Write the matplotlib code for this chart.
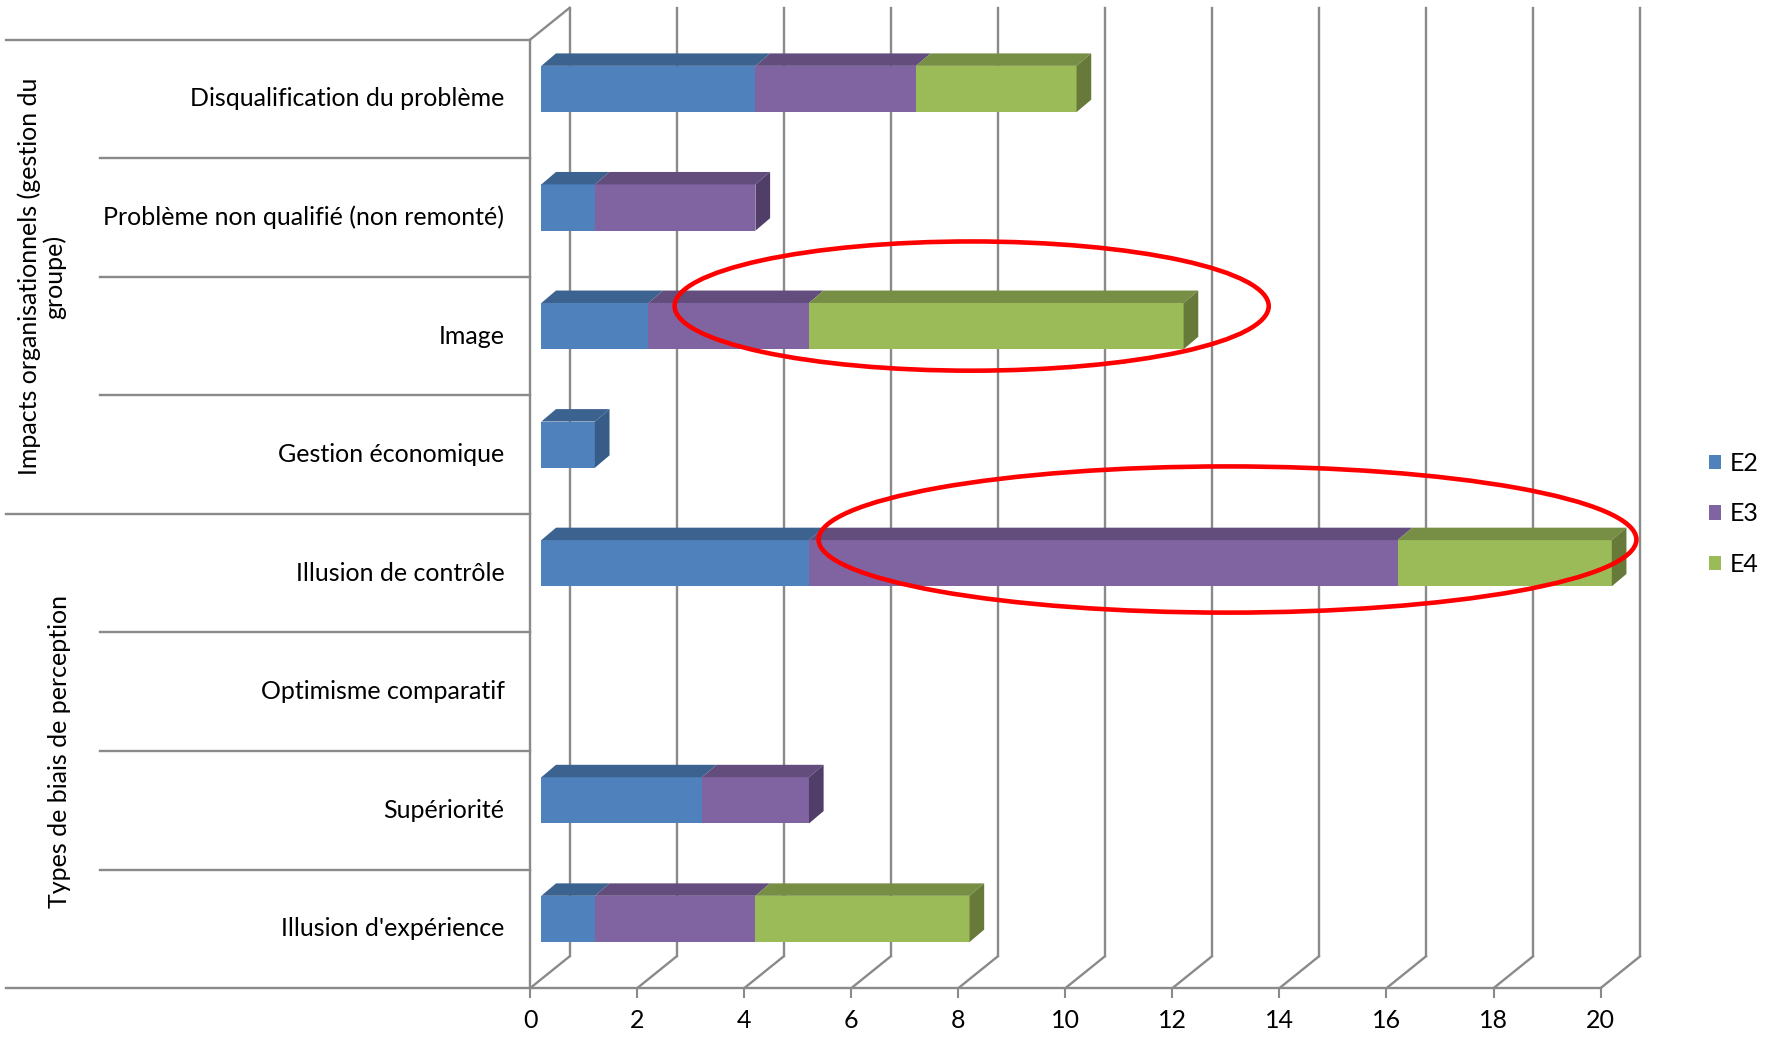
import matplotlib
matplotlib.use('Agg')
import matplotlib.pyplot as plt
from matplotlib.patches import Polygon, Ellipse, Patch
import matplotlib.transforms as mtrans

plt.rcParams['font.family'] = ['Lato', 'DejaVu Sans']

# ---------------- data ----------------
categories = ["Disqualification du problème",
              "Problème non qualifié (non remonté)",
              "Image",
              "Gestion économique",
              "Illusion de contrôle",
              "Optimisme comparatif",
              "Supériorité",
              "Illusion d'expérience"]
groups = ["Impacts organisationnels (gestion du\ngroupe)",
          "Types de biais de perception"]
group_sizes = [4, 4]
series_names = ["E2", "E3", "E4"]
e2 = [4, 1, 2, 1, 5, 0, 3, 1]
e3 = [3, 3, 3, 0, 11, 0, 2, 3]
e4 = [3, 0, 7, 0, 4, 0, 0, 4]
xticks = [0, 2, 4, 6, 8, 10, 12, 14, 16, 18, 20]

# ---------------- style ----------------
front_cols = ["#4F81BD", "#8064A2", "#9BBB59"]
top_cols = ["#3C6290", "#634D7C", "#778E45"]
side_cols = ["#385C88", "#503E68", "#677A39"]
grid_col = "#8A8A8A"
FS = 18.0

WX, WY = 0.737, -0.268     # wall depth offset (data units)
BX, BY = 0.274, -0.105     # bar depth offset
BAR_SHIFT = 0.21           # bar front face shift
BAR_H = 0.39
BAR_C = 0.416

AX_LEFT = 0.3000
AX_W = 0.6058

fig = plt.figure(figsize=(17.67, 10.38), dpi=100)
ax = fig.add_axes([AX_LEFT, 0.048, AX_W, 0.9138])
ax.set_xlim(0, 20)
ax.set_ylim(8, 0)
for s in ax.spines.values():
    s.set_visible(False)
ax.set_xticks(xticks)
ax.set_xticklabels([str(t) for t in xticks], fontsize=FS)
ax.tick_params(axis='x', length=7, width=1.5, color=grid_col, pad=8)
ax.set_yticks([])

glw = 1.7
# back-wall gridlines and floor diagonals
for k in xticks:
    ax.plot([k + WX, k + WX], [WY, 8 + WY], color=grid_col, lw=glw, clip_on=False, zorder=1)
    ax.plot([k, k + WX], [8, 8 + WY], color=grid_col, lw=glw, clip_on=False, zorder=1)
# left wall
ax.plot([0, 0], [0, 8], color=grid_col, lw=glw, clip_on=False, zorder=1)
ax.plot([0, WX], [0, WY], color=grid_col, lw=glw, clip_on=False, zorder=1)
# floor front line
ax.plot([0, 20], [8, 8], color=grid_col, lw=glw, clip_on=False, zorder=1)

# category separators (figure-x / data-y)
btr = mtrans.blended_transform_factory(fig.transFigure, ax.transData)
bounds = [0]
for g in group_sizes:
    bounds.append(bounds[-1] + g)
for yb in range(len(categories) + 1):
    x0 = 0.0032 if yb in bounds else 0.0564
    ax.plot([x0, AX_LEFT], [yb, yb], color=grid_col, lw=glw, transform=btr, clip_on=False, zorder=1)

# category labels
lab_tr = mtrans.offset_copy(ax.transData, fig=fig, x=-18.5, y=0, units='points')
for i, c in enumerate(categories):
    ax.text(0, i + 0.5, c, ha='right', va='center', fontsize=FS, transform=lab_tr)

# group labels
gx = [0.0237, 0.0335]
start = 0
for g, n, x in zip(groups, group_sizes, gx):
    ax.text(x, start + n / 2, g, rotation=90, ha='center', va='center',
            fontsize=FS, transform=btr, multialignment='center', linespacing=1.05)
    start += n

# ---------------- bars ----------------
series = [e2, e3, e4]
for i in range(len(categories)):
    left = BAR_SHIFT
    yc = i + BAR_C
    ytop = yc - BAR_H / 2
    ybot = yc + BAR_H / 2
    last = None
    for si, vals in enumerate(series):
        v = vals[i]
        if v == 0:
            continue
        ax.barh(yc, v, left=left, height=BAR_H, color=front_cols[si], edgecolor='none',
                zorder=3, clip_on=False)
        top = Polygon([(left, ytop), (left + v, ytop), (left + v + BX, ytop + BY), (left + BX, ytop + BY)],
                      closed=True, facecolor=top_cols[si], edgecolor='none', zorder=3, clip_on=False)
        ax.add_patch(top)
        left += v
        last = si
    if last is not None:
        side = Polygon([(left, ytop), (left + BX, ytop + BY), (left + BX, ybot + BY), (left, ybot)],
                       closed=True, facecolor=side_cols[last], edgecolor='none', zorder=3, clip_on=False)
        ax.add_patch(side)

# ---------------- annotations (red ellipses) ----------------
ax.add_patch(Ellipse((8.25, 2.247), 11.1, 1.09, fill=False, edgecolor='#FF0000', lw=3.3, zorder=5, clip_on=False))
ax.add_patch(Ellipse((13.03, 4.216), 15.28, 1.233, fill=False, edgecolor='#FF0000', lw=3.3, zorder=5, clip_on=False))

# ---------------- legend ----------------
handles = [Patch(facecolor=c, edgecolor='none') for c in front_cols]
fig.legend(handles, series_names, loc='center left', bbox_to_anchor=(0.9615, 0.505),
           frameon=False, fontsize=FS, handlelength=0.5, handleheight=0.5,
           labelspacing=1.1, handletextpad=0.35, borderaxespad=0)

fig.savefig('out.png', dpi=100)
